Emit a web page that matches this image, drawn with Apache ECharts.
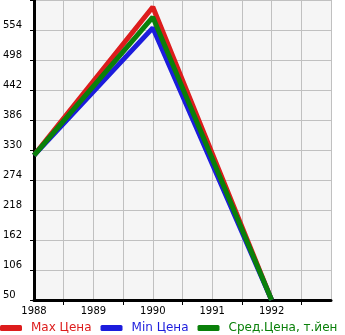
<!DOCTYPE html>
<html><head><meta charset="utf-8">
<script src="https://cdn.jsdelivr.net/npm/echarts@6/dist/echarts.min.js"></script>
<style>html,body{margin:0;padding:0;background:#fff}#c{width:345px;height:335px}</style>
</head><body><div id="c"></div>
<script>
const years = [1988, 1990, 1992];
const maxPrice = [320, 597, 50];
const minPrice = [320, 558, 50];
const avgPrice = [320, 578, 50];
const yTicks = [50, 106, 162, 218, 274, 330, 386, 442, 498, 554, 610];
const yLabels = [50, 106, 162, 218, 274, 330, 386, 442, 498, 554];
const seriesNames = ['Max Цена', 'Min Цена', 'Сред.Цена, т.йен'];
const colors = ['#dd1c1c', '#1c1cdd', '#0a800a'];

const chart = echarts.init(document.getElementById('c'));
const pair = arr => years.map((y, i) => [y, arr[i]]);
const dataSets = [maxPrice, minPrice, avgPrice];
chart.setOption({
  animation: false,
  textStyle: {fontFamily: 'DejaVu Sans'},
  grid: {left: 31, right: 14, top: 0, bottom: 35, show: true, backgroundColor: '#f5f5f5', borderWidth: 0},
  xAxis: {
    type: 'value', min: 1988, max: 1993, interval: 1,
    axisLine: {lineStyle: {color: '#000', width: 3}},
    axisTick: {show: false},
    minorTick: {show: true, splitNumber: 2, length: 5, lineStyle: {color: '#000', width: 1}},
    splitLine: {show: true, lineStyle: {color: '#c0c0c0', width: 1}},
    minorSplitLine: {show: true, lineStyle: {color: '#c0c0c0', width: 1}},
    axisLabel: {color: '#000', fontSize: 10, margin: 6, formatter: v => v === 1993 ? '' : String(v)}
  },
  yAxis: {
    type: 'value', min: 50, max: 610,
    axisLine: {show: true, lineStyle: {color: '#000', width: 3}},
    axisTick: {show: true, length: 4, customValues: yTicks, lineStyle: {color: '#000'}},
    splitLine: {show: true, lineStyle: {color: '#c0c0c0', width: 1}},
    axisLabel: {color: '#000', fontSize: 10, align: 'left', margin: 31, verticalAlign: 'bottom', customValues: yLabels}
  },
  legend: {
    left: 0, bottom: 1, padding: 0, itemGap: 9, itemWidth: 22, itemHeight: 6, icon: 'roundRect',
    data: seriesNames.map((n, i) => ({name: n, textStyle: {color: colors[i], fontSize: 12, padding: [0, 0, 0, 4]}}))
  },
  series: seriesNames.map((n, i) => ({
    name: n, type: 'line', data: pair(dataSets[i]), showSymbol: false, symbol: 'none',
    lineStyle: {color: colors[i], width: 5}, itemStyle: {color: colors[i]}, clip: true
  }))
});
</script></body></html>
